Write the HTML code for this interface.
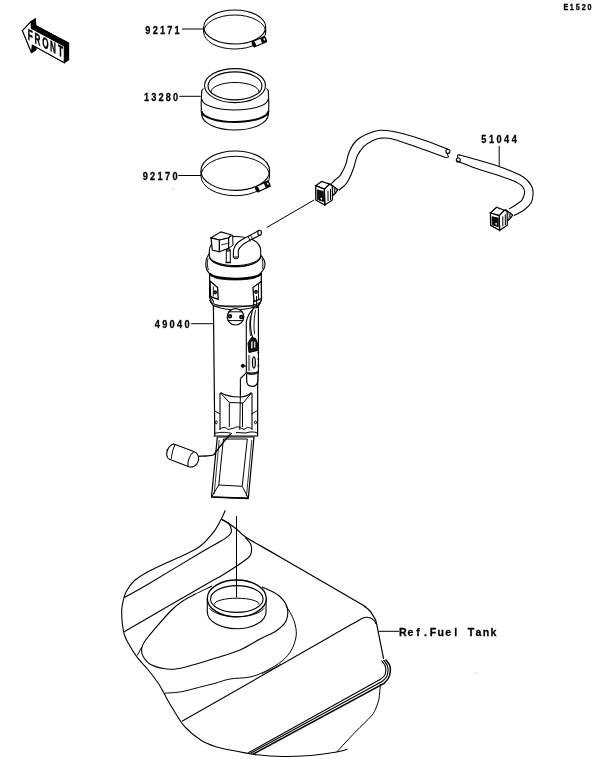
<!DOCTYPE html>
<html><head><meta charset="utf-8"><style>
html,body{margin:0;padding:0;background:#fff;}
body{width:600px;height:782px;overflow:hidden;}
svg{display:block;}
svg{filter:grayscale(1);}
</style></head><body>
<svg width="600" height="782" viewBox="0 0 600 782">
<rect width="600" height="782" fill="#fff"/>
<polygon points="26.7,27.7 35.3,18.7 35.8,25.6 68.6,43.0 68.6,59.8 36.6,42.2 35.8,49.9" fill="#000" stroke="#000" stroke-width="1"/>
<polygon points="22.4,30.6 31.0,21.6 35.3,18.7 26.7,27.7" fill="#000" stroke="#000" stroke-width="0.8"/>
<polygon points="31.0,21.6 31.5,28.5 35.8,25.6 35.3,18.7" fill="#000" stroke="#000" stroke-width="0.8"/>
<polygon points="31.5,28.5 64.3,45.9 68.6,43.0 35.8,25.6" fill="#000" stroke="#000" stroke-width="0.8"/>
<polygon points="64.3,45.9 64.3,62.7 68.6,59.8 68.6,43.0" fill="#000" stroke="#000" stroke-width="0.8"/>
<polygon points="64.3,62.7 32.3,45.1 36.6,42.2 68.6,59.8" fill="#000" stroke="#000" stroke-width="0.8"/>
<polygon points="32.3,45.1 31.5,52.8 35.8,49.9 36.6,42.2" fill="#000" stroke="#000" stroke-width="0.8"/>
<polygon points="31.5,52.8 22.4,30.6 26.7,27.7 35.8,49.9" fill="#000" stroke="#000" stroke-width="0.8"/>
<polygon points="22.4,30.6 31.0,21.6 31.5,28.5 64.3,45.9 64.3,62.7 32.3,45.1 31.5,52.8" fill="#fff" stroke="#000" stroke-width="1.1"/>
<g class="t"><text transform="translate(30.25,40.57) skewY(27.2) scale(0.53,1)" text-anchor="middle" font-family="&quot;Liberation Sans&quot;, sans-serif" font-size="15.4" font-weight="bold" stroke="#000" stroke-width="0.45">F</text><text transform="translate(37.45,44.28) skewY(27.2) scale(0.53,1)" text-anchor="middle" font-family="&quot;Liberation Sans&quot;, sans-serif" font-size="15.4" font-weight="bold" stroke="#000" stroke-width="0.45">R</text><text transform="translate(45.30,48.33) skewY(27.2) scale(0.53,1)" text-anchor="middle" font-family="&quot;Liberation Sans&quot;, sans-serif" font-size="15.4" font-weight="bold" stroke="#000" stroke-width="0.45">O</text><text transform="translate(52.95,52.26) skewY(27.2) scale(0.53,1)" text-anchor="middle" font-family="&quot;Liberation Sans&quot;, sans-serif" font-size="15.4" font-weight="bold" stroke="#000" stroke-width="0.45">N</text><text transform="translate(60.60,56.20) skewY(27.2) scale(0.53,1)" text-anchor="middle" font-family="&quot;Liberation Sans&quot;, sans-serif" font-size="15.4" font-weight="bold" stroke="#000" stroke-width="0.45">T</text></g>
<g class="t"><text transform="translate(565.95,10.1) scale(0.8,1)" text-anchor="middle" font-family="&quot;Liberation Sans&quot;, sans-serif" font-size="9" font-weight="bold" stroke="#000" stroke-width="0.3">E</text><text transform="translate(571.87,10.1) scale(0.8,1)" text-anchor="middle" font-family="&quot;Liberation Sans&quot;, sans-serif" font-size="9" font-weight="bold" stroke="#000" stroke-width="0.3">1</text><text transform="translate(577.78,10.1) scale(0.8,1)" text-anchor="middle" font-family="&quot;Liberation Sans&quot;, sans-serif" font-size="9" font-weight="bold" stroke="#000" stroke-width="0.3">5</text><text transform="translate(583.69,10.1) scale(0.8,1)" text-anchor="middle" font-family="&quot;Liberation Sans&quot;, sans-serif" font-size="9" font-weight="bold" stroke="#000" stroke-width="0.3">2</text><text transform="translate(589.61,10.1) scale(0.8,1)" text-anchor="middle" font-family="&quot;Liberation Sans&quot;, sans-serif" font-size="9" font-weight="bold" stroke="#000" stroke-width="0.3">0</text></g>
<g class="t"><text transform="translate(147.91,33.6) scale(0.78,1)" text-anchor="middle" font-family="&quot;Liberation Sans&quot;, sans-serif" font-size="11.8" font-weight="bold" stroke="#000" stroke-width="0.3">9</text><text transform="translate(155.22,33.6) scale(0.78,1)" text-anchor="middle" font-family="&quot;Liberation Sans&quot;, sans-serif" font-size="11.8" font-weight="bold" stroke="#000" stroke-width="0.3">2</text><text transform="translate(162.54,33.6) scale(0.78,1)" text-anchor="middle" font-family="&quot;Liberation Sans&quot;, sans-serif" font-size="11.8" font-weight="bold" stroke="#000" stroke-width="0.3">1</text><text transform="translate(169.85,33.6) scale(0.78,1)" text-anchor="middle" font-family="&quot;Liberation Sans&quot;, sans-serif" font-size="11.8" font-weight="bold" stroke="#000" stroke-width="0.3">7</text><text transform="translate(177.16,33.6) scale(0.78,1)" text-anchor="middle" font-family="&quot;Liberation Sans&quot;, sans-serif" font-size="11.8" font-weight="bold" stroke="#000" stroke-width="0.3">1</text></g>
<line x1="182" y1="29" x2="204" y2="29" stroke="#000" stroke-width="1"/>
<g class="t"><text transform="translate(146.49,100.8) scale(0.78,1)" text-anchor="middle" font-family="&quot;Liberation Sans&quot;, sans-serif" font-size="11.8" font-weight="bold" stroke="#000" stroke-width="0.3">1</text><text transform="translate(153.74,100.8) scale(0.78,1)" text-anchor="middle" font-family="&quot;Liberation Sans&quot;, sans-serif" font-size="11.8" font-weight="bold" stroke="#000" stroke-width="0.3">3</text><text transform="translate(160.99,100.8) scale(0.78,1)" text-anchor="middle" font-family="&quot;Liberation Sans&quot;, sans-serif" font-size="11.8" font-weight="bold" stroke="#000" stroke-width="0.3">2</text><text transform="translate(168.23,100.8) scale(0.78,1)" text-anchor="middle" font-family="&quot;Liberation Sans&quot;, sans-serif" font-size="11.8" font-weight="bold" stroke="#000" stroke-width="0.3">8</text><text transform="translate(175.48,100.8) scale(0.78,1)" text-anchor="middle" font-family="&quot;Liberation Sans&quot;, sans-serif" font-size="11.8" font-weight="bold" stroke="#000" stroke-width="0.3">0</text></g>
<line x1="179.3" y1="96.3" x2="200.8" y2="96.3" stroke="#000" stroke-width="1"/>
<g class="t"><text transform="translate(145.25,179.8) scale(0.78,1)" text-anchor="middle" font-family="&quot;Liberation Sans&quot;, sans-serif" font-size="11.8" font-weight="bold" stroke="#000" stroke-width="0.3">9</text><text transform="translate(152.67,179.8) scale(0.78,1)" text-anchor="middle" font-family="&quot;Liberation Sans&quot;, sans-serif" font-size="11.8" font-weight="bold" stroke="#000" stroke-width="0.3">2</text><text transform="translate(160.09,179.8) scale(0.78,1)" text-anchor="middle" font-family="&quot;Liberation Sans&quot;, sans-serif" font-size="11.8" font-weight="bold" stroke="#000" stroke-width="0.3">1</text><text transform="translate(167.51,179.8) scale(0.78,1)" text-anchor="middle" font-family="&quot;Liberation Sans&quot;, sans-serif" font-size="11.8" font-weight="bold" stroke="#000" stroke-width="0.3">7</text><text transform="translate(174.93,179.8) scale(0.78,1)" text-anchor="middle" font-family="&quot;Liberation Sans&quot;, sans-serif" font-size="11.8" font-weight="bold" stroke="#000" stroke-width="0.3">0</text></g>
<line x1="178.3" y1="175.5" x2="201" y2="175.5" stroke="#000" stroke-width="1"/>
<g class="t"><text transform="translate(157.34,327.8) scale(0.78,1)" text-anchor="middle" font-family="&quot;Liberation Sans&quot;, sans-serif" font-size="11.8" font-weight="bold" stroke="#000" stroke-width="0.3">4</text><text transform="translate(164.74,327.8) scale(0.78,1)" text-anchor="middle" font-family="&quot;Liberation Sans&quot;, sans-serif" font-size="11.8" font-weight="bold" stroke="#000" stroke-width="0.3">9</text><text transform="translate(172.14,327.8) scale(0.78,1)" text-anchor="middle" font-family="&quot;Liberation Sans&quot;, sans-serif" font-size="11.8" font-weight="bold" stroke="#000" stroke-width="0.3">0</text><text transform="translate(179.53,327.8) scale(0.78,1)" text-anchor="middle" font-family="&quot;Liberation Sans&quot;, sans-serif" font-size="11.8" font-weight="bold" stroke="#000" stroke-width="0.3">4</text><text transform="translate(186.93,327.8) scale(0.78,1)" text-anchor="middle" font-family="&quot;Liberation Sans&quot;, sans-serif" font-size="11.8" font-weight="bold" stroke="#000" stroke-width="0.3">0</text></g>
<line x1="191.1" y1="323.7" x2="213.5" y2="323.7" stroke="#000" stroke-width="1"/>
<g class="t"><text transform="translate(483.81,143.4) scale(0.78,1)" text-anchor="middle" font-family="&quot;Liberation Sans&quot;, sans-serif" font-size="11.8" font-weight="bold" stroke="#000" stroke-width="0.3">5</text><text transform="translate(491.43,143.4) scale(0.78,1)" text-anchor="middle" font-family="&quot;Liberation Sans&quot;, sans-serif" font-size="11.8" font-weight="bold" stroke="#000" stroke-width="0.3">1</text><text transform="translate(499.04,143.4) scale(0.78,1)" text-anchor="middle" font-family="&quot;Liberation Sans&quot;, sans-serif" font-size="11.8" font-weight="bold" stroke="#000" stroke-width="0.3">0</text><text transform="translate(506.65,143.4) scale(0.78,1)" text-anchor="middle" font-family="&quot;Liberation Sans&quot;, sans-serif" font-size="11.8" font-weight="bold" stroke="#000" stroke-width="0.3">4</text><text transform="translate(514.26,143.4) scale(0.78,1)" text-anchor="middle" font-family="&quot;Liberation Sans&quot;, sans-serif" font-size="11.8" font-weight="bold" stroke="#000" stroke-width="0.3">4</text></g>
<line x1="499.2" y1="146" x2="499.2" y2="166" stroke="#000" stroke-width="1"/>
<g class="t"><text transform="translate(402.80,636) scale(0.9,1)" text-anchor="middle" font-family="&quot;Liberation Sans&quot;, sans-serif" font-size="11.8" font-weight="bold" stroke="#000" stroke-width="0.3">R</text><text transform="translate(410.36,636) scale(0.9,1)" text-anchor="middle" font-family="&quot;Liberation Sans&quot;, sans-serif" font-size="11.8" font-weight="bold" stroke="#000" stroke-width="0.3">e</text><text transform="translate(417.93,636) scale(0.9,1)" text-anchor="middle" font-family="&quot;Liberation Sans&quot;, sans-serif" font-size="11.8" font-weight="bold" stroke="#000" stroke-width="0.3">f</text><text transform="translate(425.49,636) scale(0.9,1)" text-anchor="middle" font-family="&quot;Liberation Sans&quot;, sans-serif" font-size="11.8" font-weight="bold" stroke="#000" stroke-width="0.3">.</text><text transform="translate(433.06,636) scale(0.9,1)" text-anchor="middle" font-family="&quot;Liberation Sans&quot;, sans-serif" font-size="11.8" font-weight="bold" stroke="#000" stroke-width="0.3">F</text><text transform="translate(440.62,636) scale(0.9,1)" text-anchor="middle" font-family="&quot;Liberation Sans&quot;, sans-serif" font-size="11.8" font-weight="bold" stroke="#000" stroke-width="0.3">u</text><text transform="translate(448.19,636) scale(0.9,1)" text-anchor="middle" font-family="&quot;Liberation Sans&quot;, sans-serif" font-size="11.8" font-weight="bold" stroke="#000" stroke-width="0.3">e</text><text transform="translate(455.75,636) scale(0.9,1)" text-anchor="middle" font-family="&quot;Liberation Sans&quot;, sans-serif" font-size="11.8" font-weight="bold" stroke="#000" stroke-width="0.3">l</text><text transform="translate(470.88,636) scale(0.9,1)" text-anchor="middle" font-family="&quot;Liberation Sans&quot;, sans-serif" font-size="11.8" font-weight="bold" stroke="#000" stroke-width="0.3">T</text><text transform="translate(478.45,636) scale(0.9,1)" text-anchor="middle" font-family="&quot;Liberation Sans&quot;, sans-serif" font-size="11.8" font-weight="bold" stroke="#000" stroke-width="0.3">a</text><text transform="translate(486.01,636) scale(0.9,1)" text-anchor="middle" font-family="&quot;Liberation Sans&quot;, sans-serif" font-size="11.8" font-weight="bold" stroke="#000" stroke-width="0.3">n</text><text transform="translate(493.58,636) scale(0.9,1)" text-anchor="middle" font-family="&quot;Liberation Sans&quot;, sans-serif" font-size="11.8" font-weight="bold" stroke="#000" stroke-width="0.3">k</text></g>
<line x1="378.5" y1="631.3" x2="399.2" y2="631.3" stroke="#000" stroke-width="1"/>
<ellipse cx="234.7" cy="32" rx="31" ry="17" fill="none" stroke="#000" stroke-width="1"/>
<ellipse cx="234.7" cy="27" rx="31" ry="17" fill="none" stroke="#000" stroke-width="1.1"/>
<line x1="203.7" y1="27" x2="203.7" y2="32" stroke="#000" stroke-width="1"/>
<line x1="265.7" y1="27" x2="265.7" y2="32" stroke="#000" stroke-width="1"/>
<g transform="translate(253.5,44.2) rotate(-22.6)"><rect x="0" y="-2.8" width="13.0" height="5.6" fill="#fff" stroke="#000" stroke-width="1.1"/><ellipse cx="0.3" cy="0.2" rx="1.5" ry="2.9" fill="#000" stroke="#000" stroke-width="0.8"/><ellipse cx="11.4" cy="-0.2" rx="2.2" ry="3.1" fill="#000" stroke="#000" stroke-width="0.6"/><ellipse cx="11.8" cy="-0.4" rx="0.8" ry="1.2" fill="#fff"/><line x1="8.8" y1="-2.8" x2="8.8" y2="2.8" stroke="#000" stroke-width="1"/></g>
<ellipse cx="235.3" cy="176.0" rx="34.3" ry="19.7" fill="none" stroke="#000" stroke-width="1"/>
<ellipse cx="235.3" cy="170.7" rx="34.3" ry="19.7" fill="none" stroke="#000" stroke-width="1.1"/>
<line x1="201.0" y1="170.7" x2="201.0" y2="176.0" stroke="#000" stroke-width="1"/>
<line x1="269.6" y1="170.7" x2="269.6" y2="176.0" stroke="#000" stroke-width="1"/>
<g transform="translate(257,189.3) rotate(-25.4)"><rect x="0" y="-2.8" width="13.3" height="5.6" fill="#fff" stroke="#000" stroke-width="1.1"/><ellipse cx="0.3" cy="0.2" rx="1.5" ry="2.9" fill="#000" stroke="#000" stroke-width="0.8"/><ellipse cx="11.7" cy="-0.2" rx="2.2" ry="3.1" fill="#000" stroke="#000" stroke-width="0.6"/><ellipse cx="12.1" cy="-0.4" rx="0.8" ry="1.2" fill="#fff"/><line x1="9.1" y1="-2.8" x2="9.1" y2="2.8" stroke="#000" stroke-width="1"/></g>
<path d="M203.5,88.5 L201.8,90.5 C201.3,97 201,104 201.3,112 L202,116" fill="none" stroke="#000" stroke-width="1.1" />
<path d="M266.5,88.5 L268.2,90.5 C268.7,97 269,104 268.7,112 L268,116" fill="none" stroke="#000" stroke-width="1.1" />
<path d="M201.8,114.5 A33.2,15.5 0 0 0 268.2,114.5" fill="none" stroke="#000" stroke-width="1.1" />
<path d="M201.8,111.3 A33.2,10.7 0 0 0 268.2,111.3" fill="none" stroke="#000" stroke-width="2.0" />
<path d="M201.8,99 A33.2,11 0 0 0 268.2,99" fill="none" stroke="#000" stroke-width="1.1" />
<ellipse cx="235" cy="85.6" rx="30.5" ry="17" fill="#fff" stroke="#000" stroke-width="1.1"/>
<ellipse cx="235" cy="85.9" rx="27" ry="14" fill="none" stroke="#000" stroke-width="1.1"/>
<path d="M211,92 A24,9.5 0 0 1 259,92" fill="none" stroke="#000" stroke-width="1"/>
<path d="M331.3,183.7 C331.9,183.1 333.6,181.3 335.0,180.0 C336.4,178.7 338.6,177.4 340.0,175.7 C341.4,173.9 342.5,171.5 343.5,169.5 C344.5,167.5 345.0,166.7 346.0,163.7 C347.0,160.7 347.6,155.5 349.3,151.7 C351.0,147.9 353.1,143.9 356.0,141.0 C358.9,138.1 362.7,136.1 366.7,134.3 C370.7,132.5 375.1,130.7 380.0,130.3 C384.9,129.9 388.5,130.3 396.0,132.0 C403.5,133.7 416.4,137.5 425.0,140.4 C433.6,143.3 444.1,147.7 447.9,149.2" fill="none" stroke="#000" stroke-width="1.1" />
<path d="M338.7,190.3 C339.6,189.6 342.4,187.6 344.0,186.0 C345.6,184.4 346.4,183.8 348.0,181.0 C349.6,178.2 351.8,173.2 353.3,169.0 C354.9,164.8 355.5,159.5 357.3,155.7 C359.1,151.9 361.6,148.8 364.0,146.3 C366.4,143.9 369.3,142.3 372.0,141.0 C374.7,139.7 376.4,138.6 380.0,138.3 C383.6,138.0 385.8,137.2 393.3,139.2 C400.8,141.1 416.3,146.9 425.0,150.0 C433.7,153.1 442.0,156.2 445.4,157.5" fill="none" stroke="#000" stroke-width="1.1" />
<ellipse cx="447.9" cy="151.4" rx="2" ry="2" fill="none" stroke="#000" stroke-width="1.1"/>
<path d="M447.5,153.4 C446.8,155 449.5,156.5 447.9,157.2 L445.4,157.5" fill="none" stroke="#000" stroke-width="1.1" />
<path d="M458.3,154.6 C461.1,155.4 468.2,157.2 475.0,159.2 C481.8,161.2 492.8,164.4 499.0,166.5 C505.2,168.6 508.5,170.1 512.0,171.5 C515.5,172.9 517.5,173.6 520.0,175.0 C522.5,176.4 525.0,178.0 527.0,180.0 C529.0,182.0 531.0,184.5 532.0,187.0 C533.0,189.5 533.2,192.3 533.0,195.0 C532.8,197.7 532.5,200.5 531.0,203.0 C529.5,205.5 526.8,207.9 524.0,210.0 C521.2,212.1 515.7,214.6 514.0,215.5" fill="none" stroke="#000" stroke-width="1.1" />
<path d="M456.7,160.8 C459.8,162.0 467.8,165.4 475.0,167.9 C482.2,170.4 494.2,174.1 500.0,176.0 C505.8,177.9 507.2,178.4 510.0,179.5 C512.8,180.6 514.8,181.2 517.0,182.5 C519.2,183.8 521.8,185.2 523.0,187.0 C524.2,188.8 524.7,190.8 524.5,193.0 C524.3,195.2 523.2,198.2 522.0,200.0 C520.8,201.8 519.2,202.5 517.0,204.0 C514.8,205.5 510.3,208.2 509.0,209.0" fill="none" stroke="#000" stroke-width="1.1" />
<ellipse cx="458.3" cy="160" rx="2" ry="2" fill="none" stroke="#000" stroke-width="1.1"/>
<path d="M458.3,154.6 C456.5,155.5 458.5,157 457.5,158" fill="none" stroke="#000" stroke-width="1.1" />
<g transform="translate(315.5,188)"><polygon points="15.5,-3.5 22.5,1.7 19.0,6.3 16.5,8.0" fill="#fff" stroke="#000" stroke-width="1.1"/><path d="M17.5,-2.5 C19.5,0 19.5,4 18,7 M19.6,-1 C21,1 21,3.5 19.8,5.5" fill="none" stroke="#000" stroke-width="0.9"/><polygon points="8.8,1.1 14.0,-3.9 16.8,-2.0 17.0,12.0 9.3,17.0" fill="#fff" stroke="#000" stroke-width="1.2"/><path d="M12.5,3 L12.5,13 M15,1 L15,12" fill="none" stroke="#000" stroke-width="1"/><polygon points="0.2,-2.3 6.2,-6.5 14.0,-3.9 8.8,1.1" fill="#fff" stroke="#000" stroke-width="1.3"/><polygon points="0.2,-2.3 8.8,1.1 9.3,17.0 0.3,12.0" fill="#fff" stroke="#000" stroke-width="1.3"/><polygon points="1.8,1.8 7.8,3.6 8.0,13.5 2.0,11.5" fill="#111" stroke="#000" stroke-width="0.8"/><path d="M4.5,10.5 L6.5,9.5 L6.5,12" fill="#fff" stroke="none"/></g>
<g transform="translate(490.3,213.3)"><polygon points="15.5,-3.5 22.5,1.7 19.0,6.3 16.5,8.0" fill="#fff" stroke="#000" stroke-width="1.1"/><path d="M17.5,-2.5 C19.5,0 19.5,4 18,7 M19.6,-1 C21,1 21,3.5 19.8,5.5" fill="none" stroke="#000" stroke-width="0.9"/><polygon points="8.8,2.3 14.0,-3.1 16.8,-2.0 17.0,12.0 9.3,17.0" fill="#fff" stroke="#000" stroke-width="1.2"/><path d="M12.5,3 L12.5,13 M15,1 L15,12" fill="none" stroke="#000" stroke-width="1"/><polygon points="0.2,-0.3 6.2,-6.1 14.0,-3.1 8.8,2.3" fill="#fff" stroke="#000" stroke-width="1.3"/><polygon points="0.2,-0.3 8.8,2.3 9.3,17.0 0.3,12.0" fill="#fff" stroke="#000" stroke-width="1.3"/><polygon points="1.8,3.4 7.8,4.8 8.0,13.5 2.0,11.5" fill="#111" stroke="#000" stroke-width="0.8"/><path d="M4.5,10.5 L6.5,9.5 L6.5,12" fill="#fff" stroke="none"/></g>
<line x1="314" y1="200" x2="266.7" y2="227.5" stroke="#000" stroke-width="1"/>
<circle cx="173" cy="189" r="0.6" fill="#999"/>
<rect x="476" y="672" width="1" height="1" fill="#bbb"/>
<rect x="213.4" y="300" width="44.6" height="136" fill="#fff" stroke="none"/>
<line x1="213.4" y1="305" x2="214.8" y2="436" stroke="#000" stroke-width="1.2"/>
<line x1="257.8" y1="305" x2="257.6" y2="436" stroke="#000" stroke-width="1.2"/>
<path d="M209.6,273 L209.6,297 C210.5,301 212,304 213.4,306 L258,306 C260,304 261.3,301 261.3,298 L261.3,273 Z" fill="#fff" stroke="#000" stroke-width="1.2"/>
<path d="M209.5,300 A26,7 0 0 0 261.5,300" fill="none" stroke="#000" stroke-width="1"/>
<path d="M210.5,301.5 A25,8.2 0 0 0 260.5,301.5" fill="none" stroke="#000" stroke-width="1"/>
<path d="M210,281 L217.6,287.5 L218.2,299.4 L210.6,296.7 Z" fill="#fff" stroke="#000" stroke-width="1.3"/>
<line x1="213.3" y1="286.5" x2="213.3" y2="296.5" stroke="#000" stroke-width="0.9"/>
<ellipse cx="215.2" cy="292.3" rx="1.2" ry="1.5" fill="#555" stroke="#000" stroke-width="1.2"/>
<path d="M210.6,296.7 L214,302.5" fill="none" stroke="#000" stroke-width="1.1" />
<path d="M253,287.5 L261.2,281.5 L261.5,298.5 L254,301.5 Z" fill="#fff" stroke="#000" stroke-width="1.3"/>
<line x1="258.5" y1="284" x2="258.5" y2="299" stroke="#000" stroke-width="0.9"/>
<ellipse cx="256" cy="291.8" rx="1.2" ry="1.5" fill="#555" stroke="#000" stroke-width="1.2"/>
<ellipse cx="235.5" cy="316.8" rx="8.3" ry="8.2" fill="#fff" stroke="#000" stroke-width="1.2"/>
<path d="M228.5,311.8 L242.5,311.8 M227.6,320.6 L243.4,320.6" fill="none" stroke="#000" stroke-width="1.0" />
<ellipse cx="230" cy="316.2" rx="1.5" ry="1.5" fill="#777" stroke="#000" stroke-width="1.4"/>
<ellipse cx="241.3" cy="317" rx="1.5" ry="1.5" fill="#777" stroke="#000" stroke-width="1.4"/>
<path d="M209.3,253.5 C206.5,257 205.8,261 205.8,264 C205.8,268 207.3,271.5 209.7,273.7 A25.6,6 0 0 0 260.9,272.7 C263.5,270 265,267.5 265,264.5 C265,261 263.5,258 260.7,255.5 Z" fill="#fff" stroke="#000" stroke-width="1.1"/>
<path d="M209.7,273.4 A25.6,5.8 0 0 0 260.9,272.7" fill="none" stroke="#000" stroke-width="2.3" />
<path d="M214,277.5 A22,3.5 0 0 0 256,277.5" fill="none" stroke="#000" stroke-width="0.8" />
<path d="M208,258.5 C207,262 207,266 208.5,270 M262,258.7 C263,262 263,266 262.7,269" fill="none" stroke="#000" stroke-width="0.9" />
<path d="M209.3,256 L209.3,251 C209.3,241 221,236.5 235,236.5 C249,236.5 260.7,241 260.7,251 L260.7,256.5 A25.7,10.3 0 0 1 209.3,256 Z" fill="#fff" stroke="#000" stroke-width="1.1"/>
<path d="M209.3,255.3 A25.7,10.3 0 0 0 260.7,255.3" fill="none" stroke="#000" stroke-width="1"/>
<path d="M209.3,256.5 A25.7,10.4 0 0 0 260.7,256.5" fill="none" stroke="#000" stroke-width="0.9"/>
<rect x="226.3" y="250" width="4" height="12.5" rx="1" fill="#fff" stroke="#000" stroke-width="1"/>
<ellipse cx="228.3" cy="250" rx="2" ry="1.2" fill="none" stroke="#000" stroke-width="1"/>
<line x1="225.5" y1="262.5" x2="231" y2="262.5" stroke="#000" stroke-width="1.5"/>
<path d="M228.6,237.8 L232.7,235 L233,245 L228.6,248.3 Z" fill="#fff" stroke="#000" stroke-width="1"/>
<path d="M219.3,240 L228.6,237.8 L228.6,248.3 L219.3,251.8 Z" fill="#fff" stroke="#000" stroke-width="1.1"/>
<path d="M211,237.8 L221,231.9 L231,234.8 L228.6,237.8 L219.3,240 Z" fill="#fff" stroke="#000" stroke-width="1.1"/>
<path d="M211,237.8 L219.3,240 L219.3,251.8 L212.3,250 Z" fill="#fff" stroke="#000" stroke-width="1.2"/>
<line x1="221" y1="245" x2="229" y2="243" stroke="#000" stroke-width="0.8"/>
<path d="M233.3,257.0 C233.4,255.6 233.1,251.1 233.8,248.8 C234.5,246.5 235.6,244.8 237.3,243.0 C239.1,241.2 242.4,239.5 244.3,238.3 C246.2,237.1 246.7,237.2 249.0,236.0 C251.3,234.8 256.8,231.7 258.3,230.8 L260.7,234.8 260.7,234.8 C258.8,235.8 252.1,238.9 249.0,240.7 C245.9,242.4 243.8,243.8 242.0,245.3 C240.2,246.9 239.1,248.1 238.5,250.0 C237.9,251.9 238.5,255.8 238.5,257.0 Z" fill="#fff" stroke="#000" stroke-width="1.1" />
<ellipse cx="259.6" cy="232.8" rx="1.8" ry="2.6" fill="#fff" stroke="#000" stroke-width="1.1"/>
<path d="M233.3,257.3 A2.6,1.4 0 0 0 238.5,257.3" fill="none" stroke="#000" stroke-width="1"/>
<path d="M248,236.5 L250.5,241.5 M250.5,235.2 L253,240" fill="none" stroke="#000" stroke-width="0.9" />
<path d="M254.4,307.9 C250.5,311 247.5,316 246.3,322 L246.3,373 L258.4,373 L258.4,307.3 Z" fill="#fff" stroke="#000" stroke-width="1.1"/>
<path d="M256.5,296 L256.8,308 M254,300 L253,309" fill="none" stroke="#000" stroke-width="1.0" />
<path d="M252.5,310 C250,318 250,326 251.5,334 L253,338" fill="none" stroke="#000" stroke-width="1.1" />
<path d="M255.5,310 C254,318 253.5,326 254.5,334" fill="none" stroke="#000" stroke-width="0.9" />
<path d="M250.5,316 C249.3,322 249.5,330 250.5,336" fill="none" stroke="#000" stroke-width="0.8" />
<path d="M248,343 L251.5,337.5 L255.5,338.5 L258.3,345 L257.5,350.5 L249,352.5 Z" fill="#111" stroke="#000" stroke-width="1"/>
<path d="M251.2,342 L252.5,341 L252.5,348 L251.2,348.8 Z M254.2,341.5 L255.3,341.8 L255.3,347.5 L254.2,347.8 Z" fill="#fff"/>
<ellipse cx="253.9" cy="362.5" rx="1.4" ry="5.6" fill="none" stroke="#000" stroke-width="1.3"/>
<rect x="248" y="355" width="2.2" height="16" fill="#888"/>
<circle cx="258.4" cy="352.4" r="0.9" fill="#000"/>
<circle cx="258.4" cy="359" r="0.9" fill="#000"/>
<circle cx="258.4" cy="365.7" r="0.9" fill="#000"/>
<path d="M246.3,372.5 C250,374.5 254,374 258.4,371.5" fill="none" stroke="#000" stroke-width="1.1" />
<ellipse cx="242.8" cy="365.8" rx="1.6" ry="1.6" fill="#000" stroke="#000" stroke-width="0.8"/>
<line x1="244.2" y1="366" x2="246.3" y2="366" stroke="#000" stroke-width="1"/>
<path d="M246.5,374 L246.8,382 C247.3,385.5 250.5,386.5 253,386.3 C256,386 257.8,383.5 257.8,380 L258,373" fill="#fff" stroke="#000" stroke-width="1.2"/>
<path d="M240.4,378.5 L245.9,373.2" fill="none" stroke="#000" stroke-width="1.1" />
<path d="M246.5,371.5 C250,373.5 254,373.5 258,371 L258,373.5 C254,375.5 250,375.5 246.5,374 Z" fill="#222"/>
<line x1="240.4" y1="378.5" x2="240.4" y2="395" stroke="#000" stroke-width="1.1"/>
<path d="M220.5,392.5 C225,395.5 233,397 240,397 C245,397 249,395 251.5,392.5" fill="none" stroke="#000" stroke-width="1.1" />
<path d="M220.5,393 L229.5,402.5 L243,403 L251.5,393" fill="none" stroke="#000" stroke-width="1" />
<line x1="220" y1="393" x2="220" y2="430" stroke="#000" stroke-width="1.1"/>
<line x1="252" y1="393" x2="252" y2="430" stroke="#000" stroke-width="1.1"/>
<line x1="229.3" y1="402.5" x2="229.3" y2="427" stroke="#000" stroke-width="1"/>
<line x1="242.5" y1="403" x2="242.5" y2="427" stroke="#000" stroke-width="1"/>
<line x1="240.5" y1="386" x2="239.8" y2="430" stroke="#000" stroke-width="1"/>
<path d="M214,410.5 L220,414" fill="none" stroke="#000" stroke-width="1" />
<ellipse cx="216.3" cy="422.4" rx="1" ry="1.3" fill="none" stroke="#000" stroke-width="1"/>
<path d="M257.5,410.5 L251.5,414" fill="none" stroke="#000" stroke-width="1" />
<ellipse cx="255.5" cy="422.4" rx="1" ry="1.3" fill="none" stroke="#000" stroke-width="1"/>
<path d="M220,429 C222,427 226,427 228,429.5 L234,428 C236,426.5 239,426.5 241,428 L244,429.5 C247,427 250,427 252,429" fill="none" stroke="#000" stroke-width="1" />
<path d="M214,433.5 C222,431.5 228,432.5 232,433.5 M236,432.5 L246,433 C250,431.5 254,431.5 257.5,433" fill="none" stroke="#000" stroke-width="1" />
<line x1="213.4" y1="436" x2="258" y2="436" stroke="#000" stroke-width="1.2"/>
<path d="M217.3,437 L254,437 L248.3,498.3 L211.5,497 Z" fill="#fff" stroke="#000" stroke-width="1.2"/>
<path d="M211.5,497 L248.3,498.3" fill="none" stroke="#000" stroke-width="1.7" />
<path d="M223.4,439 L247.3,439 L242.2,486.3 L218.8,485 Z" fill="none" stroke="#000" stroke-width="1"/>
<line x1="211.5" y1="497" x2="218.8" y2="485" stroke="#000" stroke-width="1"/>
<line x1="248.3" y1="498.3" x2="242.2" y2="486.3" stroke="#000" stroke-width="1"/>
<line x1="219.2" y1="440" x2="214.2" y2="494" stroke="#000" stroke-width="0.8"/>
<line x1="251.8" y1="440" x2="246.5" y2="496" stroke="#000" stroke-width="0.8"/>
<path d="M198.7,456.3 C199.9,456.2 203.6,456.2 206.0,456.0 C208.4,455.8 211.6,455.7 213.3,455.0 C215.0,454.3 214.6,453.5 216.0,451.7 C217.4,449.9 220.2,446.2 222.0,444.0 C223.8,441.8 225.2,439.9 226.7,438.3 C228.1,436.7 230.0,435.0 230.7,434.3" fill="none" stroke="#000" stroke-width="1.3" />
<g transform="translate(182.6,455.8) rotate(21)"><path d="M-11,-8 L9,-8 C14,-8 16.5,-4 16.5,0 C16.5,4 14,8 9,8 L-11,8 C-14,8 -16.2,4 -16.2,0 C-16.2,-4 -14,-8 -11,-8 Z" fill="#fff" stroke="#000" stroke-width="1.1"/><path d="M9,-8 C6.3,-4 6.3,4 9,8" fill="none" stroke="#000" stroke-width="1"/><path d="M-11,-7.8 C-11.5,-3 -10.5,3 -9.5,7" fill="none" stroke="#000" stroke-width="0.9"/><circle cx="-16.3" cy="0" r="0.9" fill="#000"/></g>
<path d="M225.3,510.3 C224.6,511.8 223.3,515.3 221.3,519.0 C219.3,522.7 216.9,527.8 213.3,532.3 C209.8,536.8 204.7,542.6 200.0,546.3 C195.3,550.0 190.8,551.6 185.0,554.5 C179.2,557.4 171.2,560.6 165.0,563.5 C158.8,566.4 152.7,569.1 147.5,572.0 C142.3,574.9 137.6,577.7 134.0,581.0 C130.4,584.3 128.0,588.0 126.0,592.0 C124.0,596.0 123.0,601.5 122.3,605.0 C121.6,608.5 121.7,610.0 121.7,613.3 C121.7,616.6 122.0,621.4 122.5,625.0 C123.0,628.6 123.5,632.0 124.5,635.0 C125.5,638.0 126.3,639.7 128.3,643.3 C130.3,646.9 133.4,652.2 136.7,656.7 C140.0,661.2 144.7,665.6 148.3,670.0 C151.9,674.4 155.2,678.6 158.3,683.3 C161.4,688.0 164.1,693.7 166.7,698.3 C169.3,702.9 171.0,706.0 174.0,710.7 C177.0,715.4 180.2,721.8 184.7,726.7 C189.1,731.6 195.6,736.7 200.7,740.0 C205.8,743.3 210.1,744.8 215.0,746.5 C219.9,748.2 223.1,748.6 230.0,750.0 C236.9,751.4 247.8,753.6 256.7,754.7 C265.6,755.8 274.4,756.4 283.3,756.5 C292.2,756.6 301.1,756.2 310.0,755.5 C318.9,754.8 330.5,753.0 336.7,752.0 C342.9,751.0 345.5,749.8 347.3,749.3" fill="none" stroke="#000" stroke-width="1.1" />
<path d="M221.3,519.0 C222.6,519.8 226.6,521.9 229.3,523.7 C232.0,525.5 234.4,527.4 237.3,529.7 C240.2,532.0 239.6,533.2 246.7,537.7 C253.8,542.2 261.4,546.2 280.0,557.0 C298.6,567.8 343.9,594.0 358.0,602.3 C372.1,610.5 362.6,605.1 364.5,606.5 C366.4,607.9 368.1,609.0 369.5,610.5 C370.9,612.0 371.9,613.8 373.0,615.5 C374.1,617.2 375.1,618.5 375.9,621.0 C376.7,623.5 376.7,624.5 378.0,630.8 C379.3,637.1 382.7,654.2 383.6,658.9" fill="none" stroke="#000" stroke-width="1.2" />
<path d="M383.5,660.0 C384.1,660.8 386.2,663.2 387.0,665.0 C387.8,666.8 388.1,668.7 388.0,670.7 C387.9,672.7 387.5,675.2 386.5,677.0 C385.5,678.8 382.8,680.8 382.0,681.5 L250.7,753.3" fill="none" stroke="#000" stroke-width="1.1" />
<path d="M381.5,660.5 C382.1,661.3 384.3,663.8 385.0,665.5 C385.7,667.2 385.9,669.0 385.8,670.7 C385.7,672.5 385.2,674.5 384.2,676.0 C383.2,677.5 380.7,678.9 380.0,679.5 L248.3,752.8" fill="none" stroke="#000" stroke-width="1.1" />
<path d="M385.5,659.5 C386.2,660.4 388.7,663.1 389.5,665.0 C390.3,666.9 390.5,668.8 390.3,671.0 C390.1,673.2 389.6,675.9 388.5,678.0 C387.4,680.1 384.8,682.6 384.0,683.5 L253.2,754" fill="none" stroke="#000" stroke-width="1.5" />
<path d="M380.5,684.0 C380.3,685.7 379.8,691.3 379.5,694.0 C379.2,696.7 379.3,697.7 378.7,700.0 C378.1,702.3 377.2,705.3 376.0,708.0 C374.8,710.7 374.8,712.0 371.3,716.0 C367.9,720.0 361.1,726.0 355.3,732.0 C349.5,738.0 339.8,748.7 336.7,752.0" fill="none" stroke="#000" stroke-width="1.0" />
<path d="M182.0,721.3 C206.7,707.2 301.2,653.2 330.0,636.7 C358.8,620.2 349.8,625.5 355.0,622.5 C360.2,619.5 359.2,619.9 361.0,619.0 C362.8,618.1 364.4,617.5 366.0,617.3 C367.6,617.1 369.2,617.5 370.5,618.0 C371.8,618.5 373.1,619.5 374.0,620.5 C374.9,621.5 375.7,623.4 376.0,624.0" fill="none" stroke="#000" stroke-width="1.1" />
<path d="M222.0,519.7 C223.0,520.2 226.6,521.8 228.0,523.0 C229.4,524.2 230.1,525.5 230.7,527.0 C231.2,528.5 231.8,530.5 231.3,532.0 C230.9,533.5 229.9,534.7 228.0,536.3 C226.1,537.9 224.7,538.7 220.0,541.5 C215.3,544.3 212.2,545.8 200.0,553.0 C187.8,560.2 159.3,577.6 146.7,585.0 C134.1,592.4 128.0,595.4 124.2,597.5" fill="none" stroke="#000" stroke-width="1.1" />
<path d="M245.3,537.7 C246.2,538.8 249.7,541.9 250.7,544.3 C251.7,546.7 252.0,549.8 251.3,552.3 C250.6,554.8 251.5,555.2 246.7,559.0 C241.9,562.8 229.6,570.7 222.7,575.0 C215.8,579.3 221.4,575.5 205.0,585.0 C188.6,594.5 137.7,623.9 124.2,631.7" fill="none" stroke="#000" stroke-width="1.1" />
<path d="M212.0,586.0 C209.2,587.4 200.1,591.6 195.0,594.2 C189.9,596.8 185.6,599.1 181.7,601.7 C177.8,604.3 175.9,605.8 171.7,610.0 C167.5,614.2 161.1,621.5 156.7,626.7 C152.2,631.9 147.5,637.4 145.0,641.0 C142.5,644.6 142.0,645.7 141.7,648.3 C141.4,650.9 141.6,653.9 143.3,656.7 C145.0,659.5 147.2,662.9 151.7,665.0 C156.1,667.1 164.2,668.9 170.0,669.2 C175.8,669.5 179.2,668.5 186.7,666.7 C194.2,664.9 206.1,661.1 215.0,658.3 C223.9,655.5 232.5,653.2 240.0,650.0 C247.5,646.8 254.0,642.2 260.0,639.0 C266.0,635.8 271.7,634.0 276.0,631.0 C280.3,628.0 284.2,625.0 286.0,621.0 C287.8,617.0 288.3,611.3 287.0,607.0 C285.7,602.7 282.2,598.3 278.0,595.0 C273.8,591.7 264.7,588.3 262.0,587.0" fill="none" stroke="#000" stroke-width="1.1" />
<path d="M137.2,655.5 L141.8,647" fill="none" stroke="#000" stroke-width="1.0" />
<path d="M164.5,693.3 C167.4,693.0 176.1,692.7 181.7,691.7 C187.3,690.7 192.8,688.9 198.3,687.5 C203.9,686.1 209.7,684.7 215.0,683.3 C220.3,681.9 224.2,680.0 230.0,679.0 C235.8,678.0 244.0,678.3 250.0,677.0 C256.0,675.7 260.7,673.7 266.0,671.0 C271.3,668.3 277.8,664.5 282.0,661.0 C286.2,657.5 289.2,654.0 291.5,650.0 C293.8,646.0 295.3,641.0 296.0,637.0 C296.7,633.0 296.2,629.7 295.5,626.0 C294.8,622.3 293.1,618.3 291.5,615.0 C289.9,611.7 286.9,607.5 286.0,606.0" fill="none" stroke="#000" stroke-width="1.0" />
<path d="M262.0,673.5 C263.7,672.8 268.8,670.6 272.0,669.0 C275.2,667.4 279.5,664.8 281.0,664.0" fill="none" stroke="#000" stroke-width="0.8" />
<path d="M207.3,598.4 L207.3,612 A29.3,16.7 0 0 0 266,612 L266,598.4 Z" fill="#fff" stroke="#000" stroke-width="1.1"/>
<ellipse cx="236.8" cy="598.4" rx="29.5" ry="18.4" fill="#fff" stroke="#000" stroke-width="1.3"/>
<ellipse cx="236.8" cy="599" rx="26.3" ry="13.4" fill="none" stroke="#000" stroke-width="1.1"/>
<path d="M214.3,604.5 A22.5,6.3 0 0 1 259.3,604.5" fill="none" stroke="#000" stroke-width="1"/>
<path d="M264.05,608.38 L262.90,609.58 L261.48,610.72 L259.81,611.79 L257.89,612.78 L255.76,613.68 L253.43,614.49 L250.93,615.18 L248.29,615.75 L245.52,616.21 L242.66,616.54 L239.75,616.73 L236.80,616.80 L233.85,616.73 L230.94,616.54 L228.08,616.21 L225.31,615.75 L222.67,615.18 L220.17,614.49 L217.84,613.68 L215.71,612.78 L213.79,611.79 L212.12,610.72 L210.70,609.58 L209.55,608.38" fill="none" stroke="#000" stroke-width="1" />
<line x1="236.5" y1="516" x2="236.5" y2="597.5" stroke="#000" stroke-width="1"/>
</svg>
</body></html>
